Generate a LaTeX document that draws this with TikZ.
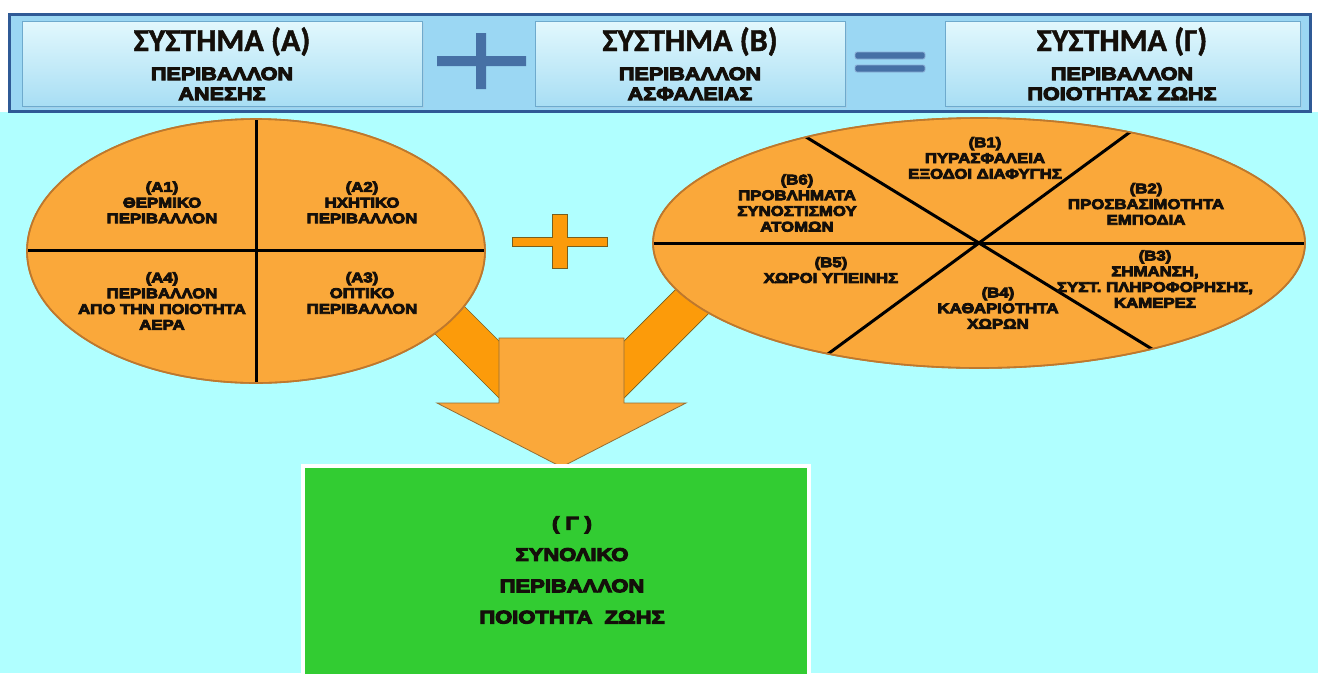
\documentclass[tikz,border=0pt]{standalone}
\usepackage{fontspec}
\setmainfont{Liberation Sans}
\newfontfamily\heavy{Liberation Sans}[BoldFeatures={FakeStretch=1.2,FakeBold=6}]
\newfontfamily\ttlfont{Carlito}[BoldFeatures={FakeBold=1.5}]
\definecolor{bandfill}{RGB}{155,215,243}
\definecolor{bandborder}{RGB}{47,90,150}
\definecolor{boxtop}{RGB}{226,248,253}
\definecolor{boxbot}{RGB}{168,222,244}
\definecolor{boxborder}{RGB}{110,170,205}
\definecolor{signblue}{RGB}{70,112,165}
\definecolor{signedge}{RGB}{140,175,215}
\definecolor{cyanbg}{RGB}{176,255,255}
\definecolor{ellfill}{RGB}{250,168,58}
\definecolor{ellborder}{RGB}{190,120,45}
\definecolor{barfill}{RGB}{252,155,10}
\definecolor{barborder}{RGB}{120,95,30}
\definecolor{arrowedge}{RGB}{150,110,50}
\definecolor{greenbox}{RGB}{50,204,50}
\definecolor{inktext}{RGB}{20,15,10}
\tikzset{
  hdrbox/.style={draw=boxborder, line width=1pt, top color=boxtop, bottom color=boxbot, inner sep=0},
  ttl/.style={font=\ttlfont\bfseries\fontsize{32}{34}\selectfont, anchor=base, inner sep=0, text=inktext},
  sub/.style={font=\heavy\bfseries\fontsize{18}{20}\selectfont, anchor=base, inner sep=0, text=inktext},
  elltxt/.style={font=\heavy\bfseries\fontsize{14}{15.7}\selectfont, align=center, inner sep=0, text=inktext},
  gtxt/.style={font=\heavy\bfseries\fontsize{18.3}{31.3}\selectfont, align=center, inner sep=0, text=inktext},
  divline/.style={line width=3pt, black},
  ellshape/.style={fill=ellfill, draw=ellborder, line width=1.6pt},
  barshape/.style={fill=barfill, draw=barborder, line width=0.7pt},
  signshape/.style={fill=signblue, draw=signedge, line width=0.8pt},
}
\begin{document}
\begin{tikzpicture}[x=1pt,y=-1pt]
\useasboundingbox (0,0) rectangle (1318,673);
% backgrounds
\fill[white] (0,0) rectangle (1318,673);
\fill[cyanbg] (0,112) rectangle (1318,673);
\draw[fill=bandfill, draw=bandborder, line width=3pt] (9.5,14.5) rectangle (1310.5,111);
% header boxes
\fill[boxborder!60, opacity=0.6] (24,23) rectangle (424,108);
\node[hdrbox, minimum width=400, minimum height=85] (hA) at (222,63.5) {};
\fill[boxborder!60, opacity=0.6] (537,23) rectangle (847,108);
\node[hdrbox, minimum width=310, minimum height=85] (hB) at (690,63.5) {};
\fill[boxborder!60, opacity=0.6] (947,23) rectangle (1302,108);
\node[hdrbox, minimum width=355, minimum height=85] (hC) at (1122.5,63.5) {};
\node[ttl] (tA1) at (222,51) {ΣΥΣΤΗΜΑ (Α)};
\node[sub] (tA2) at (222,80) {ΠΕΡΙΒΑΛΛΟΝ};
\node[sub] (tA3) at (222,100) {ΑΝΕΣΗΣ};
\node[ttl] (tB1) at (690,51) {ΣΥΣΤΗΜΑ (Β)};
\node[sub] (tB2) at (690,80) {ΠΕΡΙΒΑΛΛΟΝ};
\node[sub] (tB3) at (690,100) {ΑΣΦΑΛΕΙΑΣ};
\node[ttl] (tC1) at (1122,51) {ΣΥΣΤΗΜΑ (Γ)};
\node[sub] (tC2) at (1122,80) {ΠΕΡΙΒΑΛΛΟΝ};
\node[sub] (tC3) at (1122,100) {ΠΟΙΟΤΗΤΑΣ ΖΩΗΣ};
% header plus and equals
\fill[signblue] (437,56) -- (476,56) -- (476,33) -- (486,33) -- (486,56) -- (526,56)
  -- (526,66) -- (486,66) -- (486,89) -- (476,89) -- (476,66) -- (437,66) -- cycle;
\draw[signshape, rounded corners=2pt] (855,52) rectangle (925,59);
\draw[signshape, rounded corners=2pt] (855,65) rectangle (925,72);
% bars to the arrow
\draw[barshape] (380,222) -- (510,352) -- (510,409) -- (380,279) -- cycle;
\draw[barshape] (743,222) -- (613,352) -- (613,409) -- (743,279) -- cycle;
% ellipse A
\draw[ellshape] (256,251) ellipse [x radius=229, y radius=132];
\begin{scope}
  \clip (256,251) ellipse [x radius=229, y radius=132];
  \draw[divline] (256,100) -- (256,400);
  \draw[divline] (0,250) -- (520,250);
\end{scope}
\draw[draw=ellborder, line width=1.6pt] (256,251) ellipse [x radius=229, y radius=132];
\node[elltxt] (A1) at (162,202.5) {(Α1)\\ΘΕΡΜΙΚΟ\\ΠΕΡΙΒΑΛΛΟΝ};
\node[elltxt] (A2) at (362,202.5) {(Α2)\\ΗΧΗΤΙΚΟ\\ΠΕΡΙΒΑΛΛΟΝ};
\node[elltxt] (A4) at (162,301) {(Α4)\\ΠΕΡΙΒΑΛΛΟΝ\\ΑΠΟ ΤΗΝ ΠΟΙΟΤΗΤΑ\\ΑΕΡΑ};
\node[elltxt] (A3) at (362,293) {(Α3)\\ΟΠΤΙΚΟ\\ΠΕΡΙΒΑΛΛΟΝ};
% ellipse B
\draw[ellshape] (979,243) ellipse [x radius=326, y radius=125];
\begin{scope}
  \clip (979,243) ellipse [x radius=326, y radius=125];
  \draw[divline] (600,243) -- (1360,243);
  \draw[divline] (638,34) -- (1320,452);
  \draw[divline] (1337,-20) -- (621,506);
\end{scope}
\draw[draw=ellborder, line width=1.6pt] (979,243) ellipse [x radius=326, y radius=125];
\node[elltxt] (B1) at (985,158) {(Β1)\\ΠΥΡΑΣΦΑΛΕΙΑ\\ΕΞΟΔΟΙ ΔΙΑΦΥΓΗΣ};
\node[elltxt] (B2) at (1146,204) {(Β2)\\ΠΡΟΣΒΑΣΙΜΟΤΗΤΑ\\ΕΜΠΟΔΙΑ};
\node[elltxt] (B3) at (1155,279) {(Β3)\\ΣΗΜΑΝΣΗ,\\ΣΥΣΤ. ΠΛΗΡΟΦΟΡΗΣΗΣ,\\ΚΑΜΕΡΕΣ};
\node[elltxt] (B4) at (998,308) {(Β4)\\ΚΑΘΑΡΙΟΤΗΤΑ\\ΧΩΡΩΝ};
\node[elltxt] (B5) at (831,270) {(Β5)\\ΧΩΡΟΙ ΥΓΙΕΙΝΗΣ};
\node[elltxt] (B6) at (797,203) {(Β6)\\ΠΡΟΒΛΗΜΑΤΑ\\ΣΥΝΟΣΤΙΣΜΟΥ\\ΑΤΟΜΩΝ};
% big arrow
\draw[fill=ellfill, draw=arrowedge, line width=0.8pt]
  (499,338) -- (624,338) -- (624,403) -- (686,403) -- (561.5,467) -- (437,403) -- (499,403) -- cycle;
% orange plus
\draw[barshape] (512,237) -- (552,237) -- (552,214) -- (567,214) -- (567,237) -- (607,237)
  -- (607,246) -- (567,246) -- (567,268) -- (552,268) -- (552,246) -- (512,246) -- cycle;
% green box
\draw[fill=greenbox, draw=white, line width=4pt] (303,466) rectangle (809,690);
\node[gtxt] (G) at (572,570) {( Γ )\\ΣΥΝΟΛΙΚΟ\\ΠΕΡΙΒΑΛΛΟΝ\\ΠΟΙΟΤΗΤΑ\ \ ΖΩΗΣ};
\end{tikzpicture}
\end{document}
